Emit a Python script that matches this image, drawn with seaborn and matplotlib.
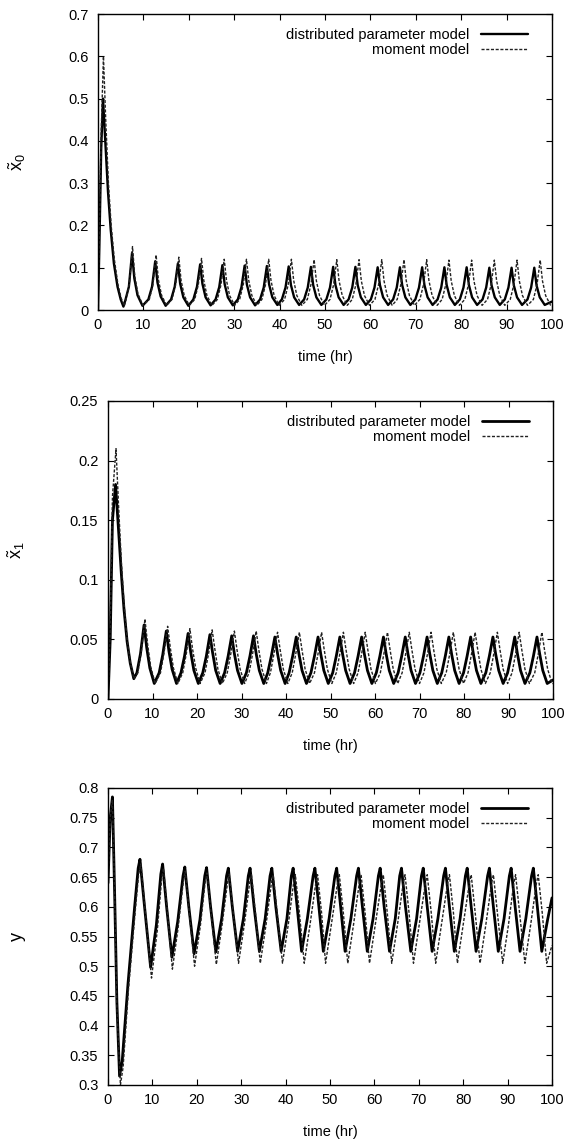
import matplotlib
matplotlib.use("Agg")
import matplotlib.pyplot as plt
from matplotlib.ticker import FuncFormatter
import seaborn as sns
import pandas as pd

# ---------------- data ----------------
# Panel 1: x0 (distributed parameter model = solid, moment model = dashed)
X0_DPM_T = [0.0, 0.3, 0.7, 1.1, 1.6, 2.2, 2.8, 3.5, 4.3, 5.0, 5.6,
            6.0, 6.8, 7.5, 8.0, 8.7, 9.8,
            11.1, 11.9, 12.6, 13.1, 13.8, 14.9,
            16.1, 16.9, 17.6, 18.1, 18.8, 19.9,
            21.0, 21.8, 22.5, 23.0, 23.7, 24.8,
            25.9, 26.7, 27.4, 27.9, 28.6, 29.7,
            30.8, 31.6, 32.3, 32.8, 33.5, 34.6,
            35.7, 36.5, 37.2, 37.7, 38.4, 39.5,
            40.5, 41.3, 42.0, 42.5, 43.2, 44.3,
            45.4, 46.2, 46.9, 47.4, 48.1, 49.2,
            50.3, 51.1, 51.8, 52.3, 53.0, 54.1,
            55.2, 56.0, 56.7, 57.2, 57.9, 59.0,
            60.1, 60.9, 61.6, 62.1, 62.8, 63.9,
            65.0, 65.8, 66.5, 67.0, 67.7, 68.8,
            69.9, 70.7, 71.4, 71.9, 72.6, 73.7,
            74.8, 75.6, 76.3, 76.8, 77.5, 78.6,
            79.7, 80.5, 81.2, 81.7, 82.4, 83.5,
            84.7, 85.5, 86.2, 86.7, 87.4, 88.5,
            89.6, 90.4, 91.1, 91.6, 92.3, 93.4,
            94.6, 95.4, 96.1, 96.6, 97.3, 98.4,
            100.0]
X0_DPM_V = [0.0, 0.15, 0.38, 0.50, 0.40, 0.28, 0.19, 0.11, 0.055, 0.025, 0.008,
            0.022, 0.055, 0.135, 0.075, 0.035, 0.010,
            0.025, 0.055, 0.115, 0.065, 0.032, 0.010,
            0.025, 0.055, 0.110, 0.062, 0.030, 0.010,
            0.025, 0.055, 0.108, 0.062, 0.030, 0.011,
            0.025, 0.054, 0.106, 0.061, 0.030, 0.011,
            0.025, 0.054, 0.105, 0.060, 0.030, 0.011,
            0.025, 0.053, 0.104, 0.060, 0.030, 0.012,
            0.025, 0.053, 0.103, 0.059, 0.030, 0.012,
            0.025, 0.053, 0.102, 0.059, 0.030, 0.012,
            0.025, 0.053, 0.102, 0.059, 0.030, 0.012,
            0.025, 0.053, 0.102, 0.059, 0.030, 0.012,
            0.025, 0.053, 0.101, 0.059, 0.030, 0.012,
            0.025, 0.053, 0.101, 0.059, 0.030, 0.012,
            0.025, 0.053, 0.101, 0.059, 0.030, 0.012,
            0.025, 0.053, 0.101, 0.059, 0.030, 0.012,
            0.025, 0.053, 0.101, 0.059, 0.030, 0.012,
            0.025, 0.053, 0.100, 0.058, 0.030, 0.012,
            0.025, 0.053, 0.100, 0.058, 0.030, 0.012,
            0.025, 0.053, 0.100, 0.058, 0.030, 0.012,
            0.020]
X0_MOM_T = [0.0, 0.3, 0.7, 1.2, 1.7, 2.3, 2.9, 3.6, 4.4, 5.1, 5.8,
            6.1, 6.9, 7.6, 8.1, 8.8, 9.9,
            11.3, 12.1, 12.8, 13.3, 14.0, 15.1,
            16.3, 17.1, 17.8, 18.3, 19.0, 20.1,
            21.3, 22.1, 22.8, 23.3, 24.0, 25.1,
            26.3, 27.1, 27.8, 28.3, 29.0, 30.1,
            31.2, 32.0, 32.7, 33.2, 33.9, 35.0,
            36.1, 36.9, 37.6, 38.1, 38.8, 39.9,
            41.1, 41.9, 42.6, 43.1, 43.8, 44.9,
            46.1, 46.9, 47.6, 48.1, 48.8, 49.9,
            51.1, 51.9, 52.6, 53.1, 53.8, 54.9,
            56.0, 56.8, 57.5, 58.0, 58.7, 59.8,
            61.0, 61.8, 62.5, 63.0, 63.7, 64.8,
            65.9, 66.7, 67.4, 67.9, 68.6, 69.7,
            70.9, 71.7, 72.4, 72.9, 73.6, 74.7,
            75.8, 76.6, 77.3, 77.8, 78.5, 79.6,
            80.8, 81.6, 82.3, 82.8, 83.5, 84.6,
            85.8, 86.6, 87.3, 87.8, 88.5, 89.6,
            90.8, 91.6, 92.3, 92.8, 93.5, 94.6,
            95.9, 96.7, 97.4, 97.9, 98.6, 99.7,
            100.0]
X0_MOM_V = [0.0, 0.18, 0.42, 0.60, 0.45, 0.30, 0.20, 0.12, 0.06, 0.028, 0.010,
            0.022, 0.060, 0.150, 0.080, 0.038, 0.011,
            0.025, 0.060, 0.130, 0.072, 0.035, 0.011,
            0.025, 0.060, 0.125, 0.070, 0.034, 0.011,
            0.025, 0.060, 0.122, 0.070, 0.034, 0.011,
            0.025, 0.060, 0.120, 0.070, 0.034, 0.011,
            0.025, 0.060, 0.120, 0.070, 0.034, 0.011,
            0.025, 0.060, 0.120, 0.070, 0.034, 0.011,
            0.025, 0.060, 0.120, 0.070, 0.034, 0.011,
            0.025, 0.060, 0.119, 0.069, 0.034, 0.011,
            0.025, 0.060, 0.119, 0.069, 0.034, 0.011,
            0.025, 0.060, 0.119, 0.069, 0.034, 0.011,
            0.025, 0.060, 0.119, 0.069, 0.034, 0.011,
            0.025, 0.060, 0.119, 0.069, 0.034, 0.011,
            0.025, 0.060, 0.119, 0.069, 0.034, 0.011,
            0.025, 0.060, 0.118, 0.069, 0.034, 0.011,
            0.025, 0.060, 0.118, 0.069, 0.034, 0.011,
            0.025, 0.060, 0.118, 0.069, 0.034, 0.011,
            0.025, 0.060, 0.118, 0.069, 0.034, 0.011,
            0.025, 0.060, 0.118, 0.069, 0.034, 0.011,
            0.012]

# Panel 2: x1
X1_DPM_T = [0.0, 0.5, 1.0, 1.7, 2.4, 3.0, 3.6, 4.3, 5.0, 5.8,
            6.5, 7.3, 8.1, 8.7, 9.4, 10.4,
            11.5, 12.3, 13.1, 13.7, 14.4, 15.4,
            16.4, 17.2, 18.0, 18.6, 19.3, 20.3,
            21.3, 22.1, 22.9, 23.5, 24.2, 25.2,
            26.2, 27.0, 27.8, 28.4, 29.1, 30.1,
            31.1, 31.9, 32.7, 33.3, 34.0, 35.0,
            35.9, 36.7, 37.5, 38.1, 38.8, 39.8,
            40.7, 41.5, 42.3, 42.9, 43.6, 44.6,
            45.6, 46.4, 47.2, 47.8, 48.5, 49.5,
            50.5, 51.3, 52.1, 52.7, 53.4, 54.4,
            55.4, 56.2, 57.0, 57.6, 58.3, 59.3,
            60.3, 61.1, 61.9, 62.5, 63.2, 64.2,
            65.2, 66.0, 66.8, 67.4, 68.1, 69.1,
            70.1, 70.9, 71.7, 72.3, 73.0, 74.0,
            75.0, 75.8, 76.6, 77.2, 77.9, 78.9,
            79.9, 80.7, 81.5, 82.1, 82.8, 83.8,
            84.9, 85.7, 86.5, 87.1, 87.8, 88.8,
            89.8, 90.6, 91.4, 92.0, 92.7, 93.7,
            94.8, 95.6, 96.4, 97.0, 97.7, 98.7,
            100.0]
X1_DPM_V = [0.0, 0.05, 0.15, 0.180, 0.14, 0.105, 0.075, 0.048, 0.030, 0.017,
            0.022, 0.038, 0.062, 0.043, 0.026, 0.013,
            0.022, 0.037, 0.057, 0.040, 0.025, 0.013,
            0.022, 0.036, 0.055, 0.039, 0.024, 0.013,
            0.022, 0.036, 0.054, 0.039, 0.024, 0.013,
            0.022, 0.036, 0.053, 0.038, 0.024, 0.013,
            0.022, 0.036, 0.053, 0.038, 0.024, 0.013,
            0.022, 0.036, 0.052, 0.038, 0.024, 0.013,
            0.022, 0.036, 0.052, 0.038, 0.024, 0.013,
            0.022, 0.036, 0.052, 0.038, 0.024, 0.013,
            0.022, 0.036, 0.052, 0.038, 0.024, 0.013,
            0.022, 0.036, 0.052, 0.038, 0.024, 0.013,
            0.022, 0.036, 0.052, 0.038, 0.024, 0.013,
            0.022, 0.036, 0.052, 0.038, 0.024, 0.013,
            0.022, 0.036, 0.052, 0.038, 0.024, 0.013,
            0.022, 0.036, 0.052, 0.038, 0.024, 0.013,
            0.022, 0.036, 0.052, 0.038, 0.024, 0.013,
            0.022, 0.036, 0.052, 0.038, 0.024, 0.013,
            0.022, 0.036, 0.052, 0.038, 0.024, 0.013,
            0.022, 0.036, 0.052, 0.038, 0.024, 0.013,
            0.016]
X1_MOM_T = [0.0, 0.5, 1.0, 1.8, 2.4, 3.0, 3.6, 4.3, 5.0, 5.8,
            6.7, 7.5, 8.3, 8.9, 9.6, 10.6,
            11.8, 12.6, 13.4, 14.0, 14.7, 15.7,
            16.8, 17.6, 18.4, 19.0, 19.7, 20.7,
            21.8, 22.6, 23.4, 24.0, 24.7, 25.7,
            26.8, 27.6, 28.4, 29.0, 29.7, 30.7,
            31.7, 32.5, 33.3, 33.9, 34.6, 35.6,
            36.5, 37.3, 38.1, 38.7, 39.4, 40.4,
            41.4, 42.2, 43.0, 43.6, 44.3, 45.3,
            46.4, 47.2, 48.0, 48.6, 49.3, 50.3,
            51.3, 52.1, 52.9, 53.5, 54.2, 55.2,
            56.2, 57.0, 57.8, 58.4, 59.1, 60.1,
            61.2, 62.0, 62.8, 63.4, 64.1, 65.1,
            66.1, 66.9, 67.7, 68.3, 69.0, 70.0,
            71.0, 71.8, 72.6, 73.2, 73.9, 74.9,
            76.0, 76.8, 77.6, 78.2, 78.9, 79.9,
            80.9, 81.7, 82.5, 83.1, 83.8, 84.8,
            85.9, 86.7, 87.5, 88.1, 88.8, 89.8,
            90.8, 91.6, 92.4, 93.0, 93.7, 94.7,
            95.9, 96.7, 97.5, 98.1, 98.8, 99.8,
            100.0]
X1_MOM_V = [0.0, 0.06, 0.17, 0.210, 0.16, 0.115, 0.080, 0.050, 0.031, 0.017,
            0.022, 0.040, 0.067, 0.046, 0.027, 0.013,
            0.022, 0.039, 0.061, 0.043, 0.026, 0.013,
            0.022, 0.038, 0.059, 0.042, 0.026, 0.013,
            0.022, 0.038, 0.058, 0.042, 0.025, 0.013,
            0.022, 0.038, 0.057, 0.041, 0.025, 0.013,
            0.022, 0.038, 0.057, 0.041, 0.025, 0.013,
            0.022, 0.038, 0.056, 0.041, 0.025, 0.013,
            0.022, 0.038, 0.056, 0.041, 0.025, 0.013,
            0.022, 0.038, 0.056, 0.041, 0.025, 0.013,
            0.022, 0.038, 0.056, 0.041, 0.025, 0.013,
            0.022, 0.038, 0.056, 0.041, 0.025, 0.013,
            0.022, 0.038, 0.056, 0.041, 0.025, 0.013,
            0.022, 0.038, 0.056, 0.041, 0.025, 0.013,
            0.022, 0.038, 0.056, 0.041, 0.025, 0.013,
            0.022, 0.038, 0.056, 0.041, 0.025, 0.013,
            0.022, 0.038, 0.056, 0.041, 0.025, 0.013,
            0.022, 0.038, 0.056, 0.041, 0.025, 0.013,
            0.022, 0.038, 0.056, 0.041, 0.025, 0.013,
            0.022, 0.038, 0.056, 0.041, 0.025, 0.013,
            0.013]

# Panel 3: y
Y_DPM_T = [0.0, 0.5, 1.0, 1.5, 2.0, 2.6, 3.2, 4.5, 6.0, 6.8, 7.2, 8.1,
           9.6, 10.9, 11.9, 12.3, 13.2,
           14.4, 15.7, 16.9, 17.3, 18.2,
           19.4, 20.7, 21.8, 22.2, 23.1,
           24.3, 25.6, 26.7, 27.1, 28.0,
           29.2, 30.5, 31.6, 32.0, 32.9,
           34.1, 35.4, 36.5, 36.9, 37.8,
           39.0, 40.3, 41.3, 41.7, 42.6,
           43.6, 44.9, 46.2, 46.6, 47.5,
           48.5, 49.8, 51.1, 51.5, 52.4,
           53.4, 54.7, 56.0, 56.4, 57.3,
           58.4, 59.7, 60.9, 61.3, 62.2,
           63.4, 64.7, 65.7, 66.1, 67.0,
           68.2, 69.5, 70.6, 71.0, 71.9,
           73.0, 74.3, 75.6, 76.0, 76.9,
           78.0, 79.3, 80.5, 80.9, 81.8,
           82.9, 84.2, 85.5, 85.9, 86.8,
           87.9, 89.2, 90.4, 90.8, 91.7,
           92.8, 94.1, 95.4, 95.8, 96.7,
           97.7, 99.0, 100.0]
Y_DPM_V = [0.64, 0.75, 0.785, 0.62, 0.44, 0.315, 0.34, 0.47, 0.60, 0.665, 0.680, 0.610,
           0.498, 0.570, 0.655, 0.672, 0.600,
           0.515, 0.575, 0.652, 0.667, 0.600,
           0.521, 0.578, 0.652, 0.666, 0.600,
           0.524, 0.580, 0.652, 0.665, 0.600,
           0.525, 0.580, 0.652, 0.665, 0.600,
           0.525, 0.580, 0.652, 0.665, 0.600,
           0.525, 0.580, 0.652, 0.665, 0.600,
           0.525, 0.580, 0.652, 0.665, 0.600,
           0.525, 0.580, 0.652, 0.665, 0.600,
           0.525, 0.580, 0.652, 0.665, 0.600,
           0.525, 0.580, 0.652, 0.665, 0.600,
           0.525, 0.580, 0.652, 0.665, 0.600,
           0.525, 0.580, 0.652, 0.665, 0.600,
           0.525, 0.580, 0.652, 0.665, 0.600,
           0.525, 0.580, 0.652, 0.665, 0.600,
           0.525, 0.580, 0.652, 0.665, 0.600,
           0.525, 0.580, 0.652, 0.665, 0.600,
           0.525, 0.580, 0.652, 0.665, 0.600,
           0.525, 0.578, 0.615]
Y_MOM_T = [0.0, 0.5, 1.0, 1.5, 2.0, 2.8, 3.4, 4.6, 6.1, 6.9, 7.4, 8.3,
           9.8, 11.1, 12.1, 12.5, 13.4,
           14.5, 15.8, 17.0, 17.4, 18.3,
           19.5, 20.8, 21.9, 22.3, 23.2,
           24.4, 25.7, 26.9, 27.3, 28.2,
           29.4, 30.7, 31.9, 32.3, 33.2,
           34.3, 35.6, 36.8, 37.2, 38.1,
           39.3, 40.6, 41.8, 42.2, 43.1,
           44.2, 45.5, 46.8, 47.2, 48.1,
           49.0, 50.3, 51.7, 52.1, 53.0,
           54.0, 55.3, 56.6, 57.0, 57.9,
           58.9, 60.2, 61.6, 62.0, 62.9,
           63.9, 65.2, 66.5, 66.9, 67.8,
           68.8, 70.1, 71.5, 71.9, 72.8,
           73.8, 75.1, 76.5, 76.9, 77.8,
           78.7, 80.0, 81.4, 81.8, 82.7,
           83.8, 85.1, 86.4, 86.8, 87.7,
           88.9, 90.2, 91.4, 91.8, 92.7,
           93.9, 95.2, 96.5, 96.9, 97.8,
           98.8, 100.0]
Y_MOM_V = [0.64, 0.75, 0.780, 0.62, 0.43, 0.300, 0.33, 0.46, 0.59, 0.655, 0.672, 0.600,
           0.480, 0.560, 0.648, 0.665, 0.590,
           0.495, 0.565, 0.645, 0.660, 0.590,
           0.500, 0.568, 0.643, 0.657, 0.590,
           0.503, 0.570, 0.640, 0.655, 0.590,
           0.505, 0.570, 0.640, 0.654, 0.590,
           0.505, 0.570, 0.640, 0.654, 0.590,
           0.505, 0.570, 0.640, 0.654, 0.590,
           0.505, 0.570, 0.640, 0.654, 0.590,
           0.505, 0.570, 0.640, 0.654, 0.590,
           0.505, 0.570, 0.640, 0.654, 0.590,
           0.505, 0.570, 0.640, 0.654, 0.590,
           0.505, 0.570, 0.640, 0.654, 0.590,
           0.505, 0.570, 0.640, 0.654, 0.590,
           0.505, 0.570, 0.640, 0.654, 0.590,
           0.505, 0.570, 0.640, 0.654, 0.590,
           0.505, 0.570, 0.640, 0.654, 0.590,
           0.505, 0.570, 0.640, 0.654, 0.590,
           0.505, 0.570, 0.640, 0.654, 0.590,
           0.505, 0.535]

SERIES_LABELS = ["distributed parameter model", "moment model"]
X_LABEL = "time (hr)"
Y_LABELS = [r"$\tilde{\mathrm{x}}_0$", r"$\tilde{\mathrm{x}}_1$", r"$\mathrm{y}$"]
X_TICKS = [0, 10, 20, 30, 40, 50, 60, 70, 80, 90, 100]
Y_TICKS_1 = [0, 0.1, 0.2, 0.3, 0.4, 0.5, 0.6, 0.7]
Y_TICKS_2 = [0, 0.05, 0.1, 0.15, 0.2, 0.25]
Y_TICKS_3 = [0.3, 0.35, 0.4, 0.45, 0.5, 0.55, 0.6, 0.65, 0.7, 0.75, 0.8]

# ---------------- styling ----------------
sns.set_theme(style="ticks")
plt.rcParams["font.family"] = ["Liberation Sans", "DejaVu Sans"]
plt.rcParams["mathtext.fontset"] = "custom"
plt.rcParams["mathtext.rm"] = "Liberation Sans"
plt.rcParams["mathtext.it"] = "Liberation Sans:italic"

fig = plt.figure(figsize=(5.75, 11.42), dpi=100)
W, H = 575.0, 1142.0

def axes_px(left, top, right, bottom):
    return fig.add_axes([left / W, 1 - bottom / H, (right - left) / W, (bottom - top) / H])

panels = [
    dict(box=(98, 14, 552, 310), data=(X0_DPM_T, X0_DPM_V, X0_MOM_T, X0_MOM_V),
         yticks=Y_TICKS_1, ylim=(0, 0.7), ylabel=Y_LABELS[0], ylx=28, lw=1.7),
    dict(box=(108, 401, 553, 699), data=(X1_DPM_T, X1_DPM_V, X1_MOM_T, X1_MOM_V),
         yticks=Y_TICKS_2, ylim=(0, 0.25), ylabel=Y_LABELS[1], ylx=27, lw=2.0),
    dict(box=(108, 788, 552, 1085), data=(Y_DPM_T, Y_DPM_V, Y_MOM_T, Y_MOM_V),
         yticks=Y_TICKS_3, ylim=(0.3, 0.8), ylabel=Y_LABELS[2], ylx=28, lw=2.0),
]

fmt = FuncFormatter(lambda v, p: "%g" % round(v, 4))

for pnl in panels:
    l, t, r, b = pnl["box"]
    ax = axes_px(l, t, r, b)
    st, sv, mt, mv = pnl["data"]
    df_s = pd.DataFrame({"t": st, "v": sv})
    df_m = pd.DataFrame({"t": mt, "v": mv})
    sns.lineplot(data=df_s, x="t", y="v", ax=ax, color="black", linewidth=pnl["lw"],
                 label=SERIES_LABELS[0], sort=False, estimator=None)
    sns.lineplot(data=df_m, x="t", y="v", ax=ax, color="#222222", linewidth=1.0,
                 linestyle=(0, (2.2, 1.2)), label=SERIES_LABELS[1], sort=False, estimator=None)
    ax.set_xlim(0, 100)
    ax.set_ylim(*pnl["ylim"])
    ax.set_xticks(X_TICKS)
    ax.set_yticks(pnl["yticks"])
    ax.xaxis.set_major_formatter(fmt)
    ax.yaxis.set_major_formatter(fmt)
    ax.tick_params(direction="in", length=4.5, width=0.8, top=True, right=True,
                   labelsize=10.5, colors="black")
    ax.tick_params(axis="x", pad=6)
    ax.tick_params(axis="y", pad=7)
    for s in ax.spines.values():
        s.set_visible(True)
        s.set_color("black")
        s.set_linewidth(1.0)
    ax.set_xlabel(X_LABEL, fontsize=10.5, color="black")
    ax.xaxis.set_label_coords(0.5, -40.0 / (b - t))
    ax.set_ylabel(pnl["ylabel"], fontsize=13, color="black", rotation=90)
    ax.yaxis.set_label_coords((pnl["ylx"] - l) / (r - l), 0.5)
    leg = ax.legend(loc="upper right", frameon=False, markerfirst=False,
                    bbox_to_anchor=(1 - 16.0 / (r - l), 1 - 6.0 / (b - t)),
                    fontsize=10.5, handlelength=3.2, handletextpad=0.8,
                    labelspacing=0.05, borderaxespad=0.25, borderpad=0.3)
    for txt in leg.get_texts():
        txt.set_color("black")
    ax.set_facecolor("white")

fig.savefig("out.png", dpi=100, facecolor="white")
